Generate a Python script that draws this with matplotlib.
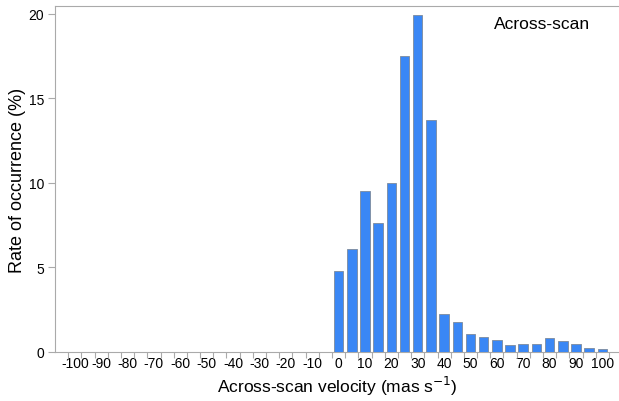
import matplotlib
matplotlib.use("Agg")
import matplotlib.pyplot as plt
import numpy as np

plt.rcParams['font.family'] = ['Liberation Sans', 'DejaVu Sans']

# Data
velocity_bins = list(range(-100, 105, 5))
pos_values = [4.8, 6.1, 9.5, 7.6, 10.0, 17.5, 19.9, 13.7, 2.25, 1.76, 1.07,
              0.87, 0.71, 0.41, 0.47, 0.47, 0.85, 0.65, 0.47, 0.24, 0.18]
rates = [0.0] * 20 + pos_values
tick_labels = [str(v) for v in range(-100, 105, 10)]
panel_label = "Across-scan"

W, H = 619, 402
fig = plt.figure(figsize=(W / 100, H / 100), dpi=100)
ax = fig.add_axes([55 / W, (H - 353) / H, (619 - 55) / W, (353 - 7) / H])

ax.bar(velocity_bins, rates, width=3.6, color='#3a87f5', edgecolor='#7c8a9c',
       linewidth=0.6, zorder=3)

ax.set_xlim(-107.5, 106.3)
ax.set_ylim(0, 20.45)

# labels at every other category, ticks at category boundaries
ax.set_xticks(list(range(-100, 105, 10)))
ax.set_xticklabels(tick_labels)
ax.set_xticks(list(np.arange(-102.5, 106, 5)), minor=True)
ax.tick_params(axis='x', which='major', length=0, pad=3, labelsize=10)
ax.tick_params(axis='x', which='minor', length=4, color='#aaaaaa', width=0.8)

ax.set_yticks([0, 5, 10, 15, 20])
ax.tick_params(axis='y', length=5, color='#aaaaaa', width=0.8, pad=3, labelsize=10)

for s in ['left', 'bottom', 'top']:
    ax.spines[s].set_color('#aaaaaa')
    ax.spines[s].set_linewidth(0.8)
ax.spines['right'].set_visible(False)

fig.text(337 / W, 1 - 386 / H, 'Across-scan velocity (mas s$^{-1}$)',
         ha='center', va='center', fontsize=12.5)
fig.text(18 / W, 1 - 180 / H, 'Rate of occurrence (%)', rotation=90,
         ha='center', va='center', fontsize=13)

ax.text(0.949, 0.972, panel_label, transform=ax.transAxes, ha='right', va='top',
        fontsize=12.5)

fig.savefig('out.png', dpi=100)
